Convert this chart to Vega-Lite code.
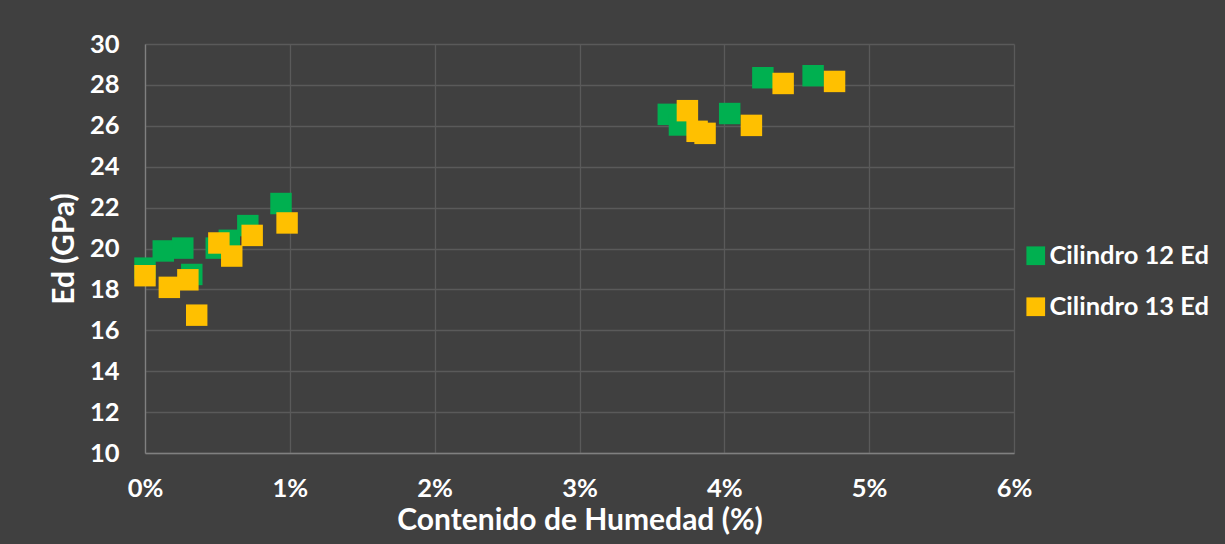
{
  "$schema": "https://vega.github.io/schema/vega-lite/v6.json",
  "width": 869,
  "height": 409,
  "autosize": {"type": "none"},
  "padding": {"left": 145, "top": 44, "right": 211, "bottom": 91},
  "background": "#404040",
  "config": {
    "view": {"stroke": null},
    "font": "Lato",
    "axis": {
      "labelColor": "#ffffff",
      "titleColor": "#ffffff",
      "labelFont": "Lato",
      "titleFont": "Lato",
      "labelFontWeight": "bold",
      "titleFontWeight": "bold",
      "labelFontSize": 25.5,
      "titleFontSize": 30,
      "gridColor": "#5a5a5a",
      "gridWidth": 1.3,
      "ticks": false,
      "domainColor": "#808080",
      "domainWidth": 1.3
    },
    "legend": {
      "labelColor": "#ffffff",
      "labelFont": "Lato",
      "labelFontWeight": "bold",
      "labelFontSize": 25.5
    }
  },
  "data": {
    "values": [
      {"serie": "Cilindro 12 Ed", "humedad": 0.0000, "ed": 19.04},
      {"serie": "Cilindro 12 Ed", "humedad": 0.00126, "ed": 19.88},
      {"serie": "Cilindro 12 Ed", "humedad": 0.00261, "ed": 20.02},
      {"serie": "Cilindro 12 Ed", "humedad": 0.00323, "ed": 18.73},
      {"serie": "Cilindro 12 Ed", "humedad": 0.00492, "ed": 20.02},
      {"serie": "Cilindro 12 Ed", "humedad": 0.00582, "ed": 20.40},
      {"serie": "Cilindro 12 Ed", "humedad": 0.00710, "ed": 21.12},
      {"serie": "Cilindro 12 Ed", "humedad": 0.00939, "ed": 22.20},
      {"serie": "Cilindro 12 Ed", "humedad": 0.03613, "ed": 26.56},
      {"serie": "Cilindro 12 Ed", "humedad": 0.03690, "ed": 26.04},
      {"serie": "Cilindro 12 Ed", "humedad": 0.04037, "ed": 26.60},
      {"serie": "Cilindro 12 Ed", "humedad": 0.04266, "ed": 28.35},
      {"serie": "Cilindro 12 Ed", "humedad": 0.04613, "ed": 28.45},
      {"serie": "Cilindro 13 Ed", "humedad": 0.0000, "ed": 18.67},
      {"serie": "Cilindro 13 Ed", "humedad": 0.00168, "ed": 18.10},
      {"serie": "Cilindro 13 Ed", "humedad": 0.00296, "ed": 18.47},
      {"serie": "Cilindro 13 Ed", "humedad": 0.00357, "ed": 16.74},
      {"serie": "Cilindro 13 Ed", "humedad": 0.00510, "ed": 20.27},
      {"serie": "Cilindro 13 Ed", "humedad": 0.00599, "ed": 19.63},
      {"serie": "Cilindro 13 Ed", "humedad": 0.00740, "ed": 20.64},
      {"serie": "Cilindro 13 Ed", "humedad": 0.00981, "ed": 21.25},
      {"serie": "Cilindro 13 Ed", "humedad": 0.03745, "ed": 26.74},
      {"serie": "Cilindro 13 Ed", "humedad": 0.03812, "ed": 25.73},
      {"serie": "Cilindro 13 Ed", "humedad": 0.03867, "ed": 25.63},
      {"serie": "Cilindro 13 Ed", "humedad": 0.04187, "ed": 26.02},
      {"serie": "Cilindro 13 Ed", "humedad": 0.04406, "ed": 28.07},
      {"serie": "Cilindro 13 Ed", "humedad": 0.04761, "ed": 28.17}
    ]
  },
  "mark": {"type": "point", "shape": "square", "filled": true, "opacity": 1, "size": 460, "strokeWidth": 0},
  "encoding": {
    "x": {
      "field": "humedad",
      "type": "quantitative",
      "scale": {"domain": [0, 0.06], "nice": false, "zero": false},
      "axis": {
        "format": ".0%",
        "values": [0, 0.01, 0.02, 0.03, 0.04, 0.05, 0.06],
        "title": "Contenido de Humedad (%)",
        "labelPadding": 23,
        "titlePadding": 4,
        "labelFlush": false
      }
    },
    "y": {
      "field": "ed",
      "type": "quantitative",
      "scale": {"domain": [10, 30], "nice": false, "zero": false},
      "axis": {
        "values": [10, 12, 14, 16, 18, 20, 22, 24, 26, 28, 30],
        "title": "Ed (GPa)",
        "labelPadding": 26,
        "titlePadding": 10,
        "labelFlush": false
      }
    },
    "color": {
      "field": "serie",
      "type": "nominal",
      "scale": {"domain": ["Cilindro 12 Ed", "Cilindro 13 Ed"], "range": ["#00b050", "#ffc000"]},
      "legend": {
        "title": null,
        "orient": "none",
        "legendX": 878,
        "legendY": 199,
        "symbolType": "square",
        "symbolSize": 350,
        "symbolStrokeWidth": 0,
        "labelOffset": 1,
        "rowPadding": 24
      }
    }
  }
}
